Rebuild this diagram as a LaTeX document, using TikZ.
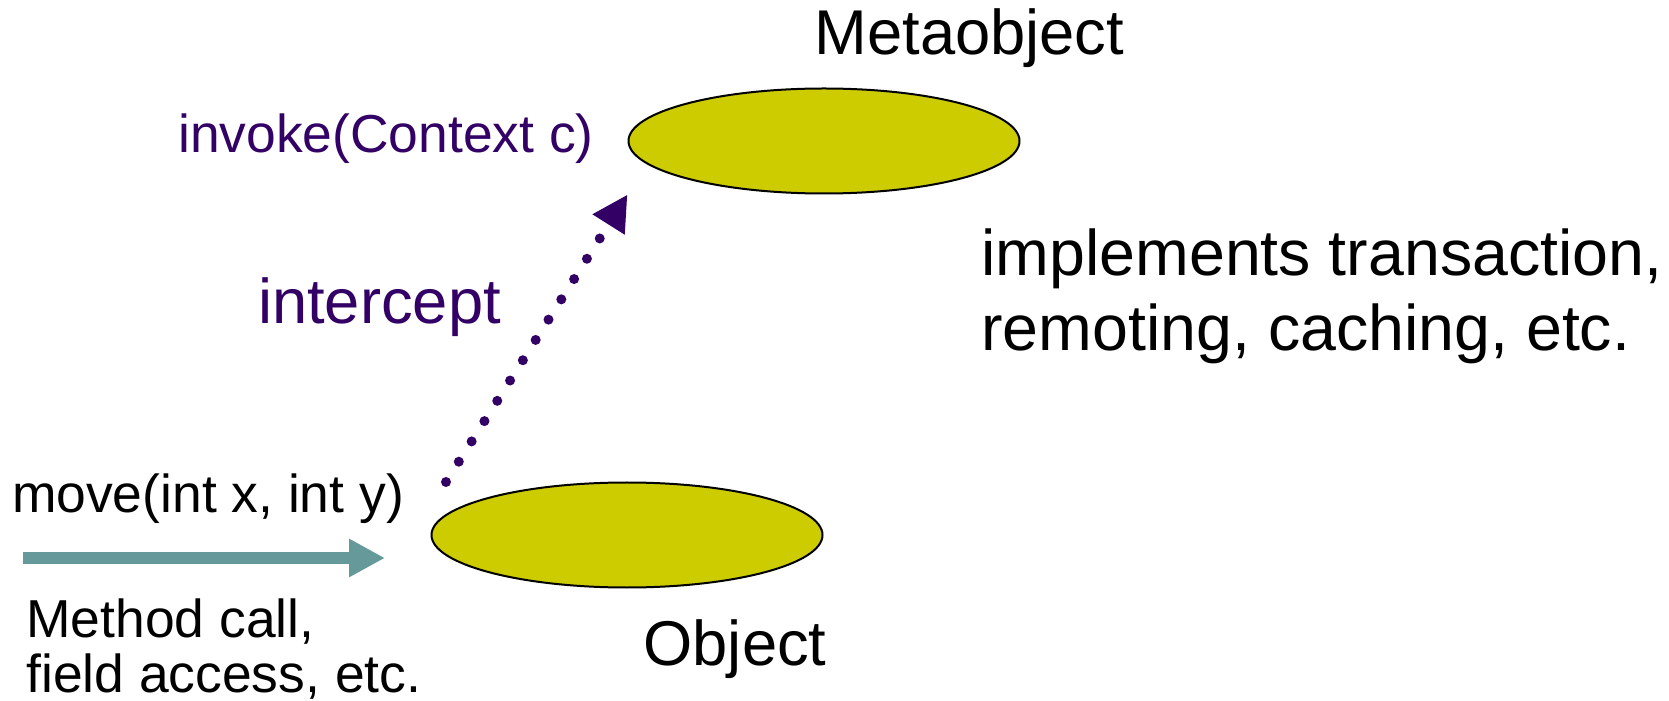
\documentclass[tikz,border=0pt]{standalone}
\usepackage{fontspec}
\setmainfont{Liberation Sans}
\usetikzlibrary{shapes.geometric,arrows.meta}
\definecolor{blobfill}{HTML}{CCCC00}
\definecolor{hookcol}{HTML}{330066}
\definecolor{callcol}{HTML}{669999}
\tikzset{
	blob/.style={ellipse, draw=black, line width=0.04cm, fill=blobfill,
		minimum width=7.82cm, minimum height=2.10cm, inner sep=0},
	bigtext/.style={inner sep=0, font=\fontsize{36}{43}\selectfont},
	sidetext/.style={inner sep=0, font=\fontsize{36.7}{44}\selectfont},
	smalltext/.style={inner sep=0, font=\fontsize{30.4}{36}\selectfont},
	callarrow/.style={draw=callcol, line width=0.24cm,
		-{Triangle[length=0.72cm, width=0.72cm]}},
	hookline/.style={draw=hookcol, line width=0.2cm, line cap=round,
		dash pattern=on 0pt off 0.48cm,
		-{Triangle[length=0.71cm, width=0.71cm]}},
}
\begin{document}
\begin{tikzpicture}
	\useasboundingbox (0,0) rectangle (33.38,14);
	% Ellipsen
	\node[blob] (meta) at (16.48, 11.18) {};
	\node[blob] (obj) at (12.54, 3.30) {};
	% Beschriftungen
	\node[bigtext, anchor=base] (metalabel) at (19.39, 12.90) {Metaobject};
	\node[bigtext, anchor=base] (objlabel) at (14.70, 0.70) {Object};
	\node[smalltext, anchor=base, text=hookcol] (invoke) at (7.72, 10.94)
	{invoke(Context c)};
	\node[bigtext, anchor=base, text=hookcol] (intercept) at (7.59, 7.52)
	{intercept};
	\node[sidetext, anchor=base west] (impl) at (19.62, 8.48)
	{implements transaction,};
	\node[sidetext, anchor=base west] (remote) at (19.62, 6.98)
	{remoting, caching, etc.};
	\node[smalltext, anchor=base] (move) at (4.16, 3.74) {move(int x, int y)};
	\node[smalltext, anchor=base west] (method) at (0.52, 1.26) {Method call,};
	\node[smalltext, anchor=base west] (field) at (0.52, 0.16)
	{field access, etc.};
	% Pfeile
	\coordinate (callstart) at (0.46, 2.84);
	\draw[callarrow, shorten >=0.91cm] (callstart) -- (callstart -| obj.west);
	\coordinate (hookstart) at (8.92, 4.36);
	\draw[hookline] (hookstart) -- (meta.west |- meta.south);
\end{tikzpicture}
\end{document}
